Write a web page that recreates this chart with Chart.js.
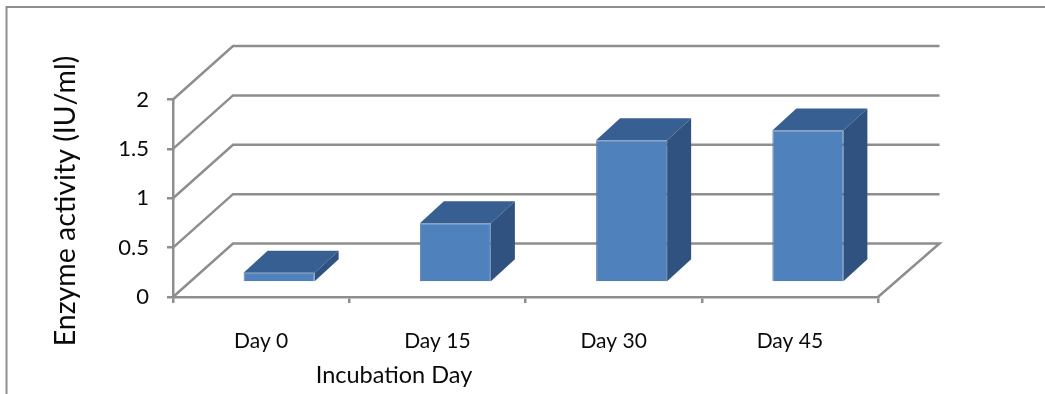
<!DOCTYPE html>
<html>
<head>
<meta charset="utf-8">
<script src="https://cdn.jsdelivr.net/npm/chart.js@4"></script>
<style>
  html, body { margin: 0; padding: 0; background: #fff; }
  canvas { display: block; }
</style>
</head>
<body>
<canvas id="chart" width="1045" height="394"></canvas>
<script>
const days = ['Day 0', 'Day 15', 'Day 30', 'Day 45'];
const activity = [0.1, 0.6, 1.44, 1.54];
const yTitle = 'Enzyme activity (IU/ml)';
const xTitle = 'Incubation Day';

const lineColor = '#8e8e8e';
const textColor = '#0a0a0a';
const fontName = 'Lato, "Open Sans", sans-serif';

// fake 3D: how far the back wall and the bars sit from the front axes
const wall = { dx: 60, dxRight: 61.5, dy: -53.5 };
const barShift = { dx: 18, dy: -14.5 };
const barDepth = { dx: 24, dy: -22 };

const walls3d = {
  id: 'walls3d',
  beforeDraw(chart) {
    const c = chart.ctx;
    c.save();
    c.strokeStyle = lineColor;
    c.lineWidth = 2;
    c.beginPath();
    c.moveTo(6.5, 394);
    c.lineTo(6.5, 7);
    c.lineTo(chart.width, 7);
    c.stroke();
    c.restore();
  },
  beforeDatasetsDraw(chart) {
    const c = chart.ctx;
    const { x, y } = chart.scales;
    c.save();
    c.strokeStyle = lineColor;
    c.lineWidth = 2.5;
    y.ticks.forEach(t => {
      const py = y.getPixelForValue(t.value);
      c.beginPath();
      c.moveTo(x.left, py);
      c.lineTo(x.left + wall.dx, py + wall.dy);
      c.lineTo(x.right + wall.dxRight, py + wall.dy);
      if (t.value === 0) c.lineTo(x.right, py);
      c.stroke();
    });
    c.restore();
  },
  beforeDatasetDraw(chart) {
    const c = chart.ctx;
    chart.getDatasetMeta(0).data.forEach(bar => {
      const { x, y, base, width } = bar.getProps(['x', 'y', 'base', 'width']);
      const l = x - width / 2 + barShift.dx;
      const r = x + width / 2 + barShift.dx;
      const t = y + barShift.dy;
      const b = base + barShift.dy;
      // top face
      c.fillStyle = '#375f91';
      c.beginPath();
      c.moveTo(l, t);
      c.lineTo(l + barDepth.dx, t + barDepth.dy);
      c.lineTo(r + barDepth.dx, t + barDepth.dy);
      c.lineTo(r, t);
      c.closePath();
      c.fill();
      // side face
      c.fillStyle = '#2f5280';
      c.beginPath();
      c.moveTo(r, t);
      c.lineTo(r + barDepth.dx, t + barDepth.dy);
      c.lineTo(r + barDepth.dx, b + barDepth.dy);
      c.lineTo(r, b);
      c.closePath();
      c.fill();
    });
    c.save();
    c.translate(barShift.dx, barShift.dy);
  },
  afterDatasetDraw(chart) {
    chart.ctx.restore();
  },
  afterDraw(chart) {
    const c = chart.ctx;
    c.save();
    c.fillStyle = textColor;
    c.textAlign = 'center';
    c.textBaseline = 'middle';
    c.font = '23.5px ' + fontName;
    c.fillText(xTitle, 394, 375);
    c.translate(66, 201);
    c.rotate(-Math.PI / 2);
    c.font = '28.5px ' + fontName;
    c.fillText(yTitle, 0, 0);
    c.restore();
  }
};

new Chart(document.getElementById('chart'), {
  type: 'bar',
  data: {
    labels: days,
    datasets: [{
      data: activity,
      backgroundColor: '#4f81bd',
      borderColor: '#5f7ea6',
      borderWidth: 1,
      barPercentage: 0.403,
      categoryPercentage: 1
    }]
  },
  plugins: [walls3d],
  options: {
    responsive: false,
    animation: false,
    layout: { padding: { left: 0, right: 167, top: 99.5, bottom: 0 } },
    plugins: { legend: { display: false }, tooltip: { enabled: false } },
    scales: {
      x: {
        afterFit: s => { s.height = 97; },
        grid: { drawOnChartArea: false, color: lineColor, lineWidth: 2.5, tickLength: 6 },
        border: { color: lineColor, width: 2.5 },
        ticks: { color: textColor, font: { family: fontName, size: 21 }, padding: 26, maxRotation: 0 }
      },
      y: {
        min: 0,
        max: 2,
        afterFit: s => { s.width = 173; },
        grid: { drawOnChartArea: false, color: lineColor, lineWidth: 2.5, tickLength: 6 },
        border: { color: lineColor, width: 2.5 },
        ticks: {
          stepSize: 0.5,
          color: textColor,
          font: { family: fontName, size: 22 },
          padding: 18,
          callback: v => String(v)
        }
      }
    }
  }
});
</script>
</body>
</html>
